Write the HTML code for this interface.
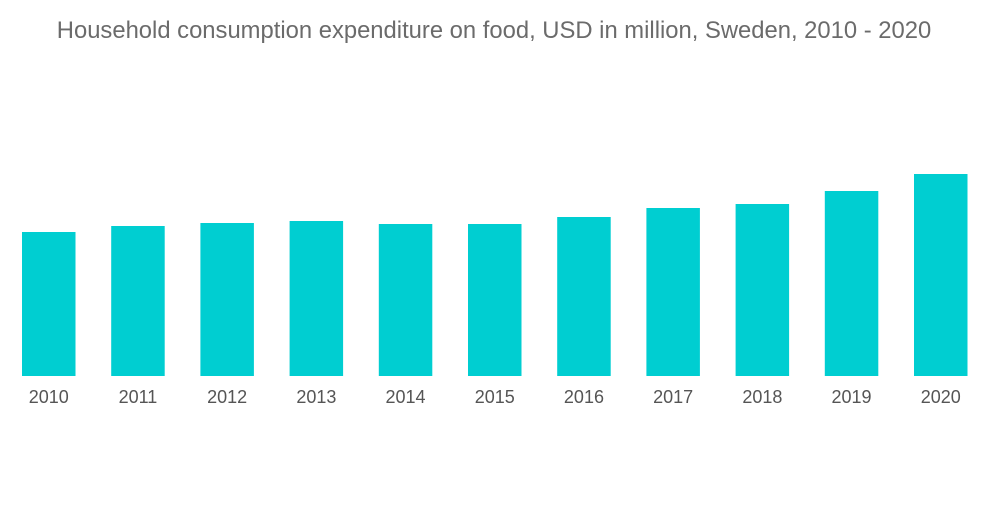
<!DOCTYPE html>
<html>
<head>
<meta charset="utf-8">
<style>
  html,body{margin:0;padding:0;background:#fff;}
  body{width:1000px;height:504px;overflow:hidden;font-family:"Liberation Sans",sans-serif;}
</style>
</head>
<body>
<svg id="chart" width="1000" height="504" viewBox="0 0 1000 504">
  <text x="494" y="38" text-anchor="middle" font-size="23.8" fill="#6b6b6b" font-family="Liberation Sans, sans-serif">Household consumption expenditure on food, USD in million, Sweden, 2010 - 2020</text>
  <g id="bars"></g>
  <g id="xlabels"></g>
</svg>
<script>
const categories = ["2010","2011","2012","2013","2014","2015","2016","2017","2018","2019","2020"];
const values = [144,150,153,155,152,152,159,168,172,185,202];

const baseline = 376, pxPerUnit = 1;
const x0 = 22, step = 89.2, barW = 53.5;
function xScale(i){ return x0 + i*step; }
function yScale(v){ return baseline - v*pxPerUnit; }

const NS = "http://www.w3.org/2000/svg";
const bars = document.getElementById("bars");
const labels = document.getElementById("xlabels");
categories.forEach((c,i)=>{
  const r = document.createElementNS(NS,"rect");
  r.setAttribute("x", xScale(i));
  r.setAttribute("y", yScale(values[i]));
  r.setAttribute("width", barW);
  r.setAttribute("height", baseline - yScale(values[i]));
  r.setAttribute("fill", "#00ced1");
  
  
  bars.appendChild(r);
  const t = document.createElementNS(NS,"text");
  t.setAttribute("x", xScale(i) + barW/2);
  t.setAttribute("y", 403);
  t.setAttribute("text-anchor","middle");
  t.setAttribute("font-size","18");
  t.setAttribute("fill","#555");
  t.textContent = c;
  
  
  labels.appendChild(t);
});
</script>
</body>
</html>
